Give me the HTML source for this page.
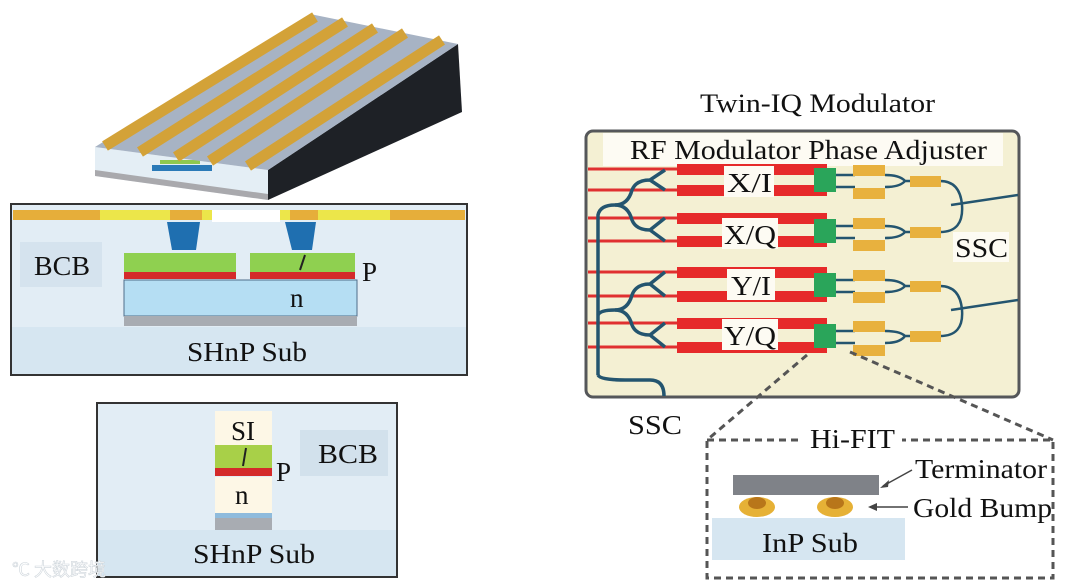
<!DOCTYPE html>
<html><head><meta charset="utf-8"><style>
html,body{margin:0;padding:0;background:#fff;}
svg{display:block;}
text{font-family:"Liberation Serif",serif;fill:#111;}
</style></head><body>
<svg width="1065" height="588" viewBox="0 0 1065 588" xmlns="http://www.w3.org/2000/svg">
<!-- 3D chip -->
<polygon points="268,170 458,44 462,112 268,200" fill="#1e2126"/>
<polygon points="95,147 268,170 268,200 95,176" fill="#e4eef5"/>
<polygon points="95,170 268,194 268,200 95,176" fill="#a9a9ad"/>
<rect x="152" y="165" width="60" height="6" fill="#2a7ab8"/>
<rect x="160" y="160" width="40" height="4" fill="#8fc850"/>
<polygon points="95,147 268,170 458,44 310,14" fill="#a7b3c4"/>
<g stroke="#d3a238" stroke-width="11">
<line x1="105" y1="146" x2="315" y2="17"/>
<line x1="140" y1="152" x2="345" y2="22"/>
<line x1="176" y1="157" x2="375" y2="28"/>
<line x1="210" y1="161" x2="405" y2="33"/>
<line x1="248" y1="166" x2="442" y2="40"/>
</g>
<!-- Cross-section 1 -->
<rect x="11" y="204" width="456" height="171" fill="#e2edf5" stroke="#333" stroke-width="2"/>
<rect x="13" y="210" width="87" height="10" fill="#e6ae3a"/>
<rect x="100" y="210" width="290" height="10" fill="#ece64a"/>
<rect x="390" y="210" width="75" height="10" fill="#e6ae3a"/>
<rect x="170" y="210" width="32" height="10" fill="#e6ae3a"/>
<rect x="290" y="210" width="28" height="10" fill="#e6ae3a"/>
<rect x="212" y="210" width="68" height="12" fill="#ffffff"/>
<polygon points="167,222 200,222 196,250 172,250" fill="#1f6fb0"/>
<polygon points="285,222 316,222 312,250 292,250" fill="#1f6fb0"/>
<rect x="20" y="242" width="82" height="45" fill="#d5e3ee"/>
<text x="34" y="275" font-size="27" textLength="56" lengthAdjust="spacingAndGlyphs">BCB</text>
<rect x="124" y="253" width="112" height="20" fill="#8fd050"/>
<rect x="250" y="253" width="105" height="20" fill="#8fd050"/>
<rect x="124" y="272" width="112" height="7" fill="#d42a2a"/>
<rect x="250" y="272" width="105" height="7" fill="#d42a2a"/>
<line x1="305" y1="255" x2="300" y2="270" stroke="#222" stroke-width="2"/>
<rect x="124" y="280" width="233" height="36" fill="#b5def3" stroke="#4e6d8a" stroke-width="1"/>
<rect x="124" y="316" width="233" height="10" fill="#a8acb2"/>
<text x="362" y="281" font-size="27">P</text>
<text x="290" y="307" font-size="27">n</text>
<rect x="12" y="327" width="454" height="47" fill="#d6e6f1"/>
<text x="187" y="361" font-size="27" textLength="120" lengthAdjust="spacingAndGlyphs">SHnP Sub</text>
<!-- Cross-section 2 -->
<rect x="97" y="403" width="300" height="174" fill="#e2edf5" stroke="#333" stroke-width="2"/>
<rect x="215" y="411" width="57" height="34" fill="#fdf7e6"/>
<text x="231" y="440" font-size="27">SI</text>
<rect x="215" y="445" width="57" height="26" fill="#a8d048"/>
<line x1="246" y1="448" x2="243" y2="466" stroke="#222" stroke-width="2"/>
<rect x="215" y="468" width="57" height="8" fill="#d42a2a"/>
<rect x="215" y="477" width="57" height="36" fill="#fdf7e6"/>
<text x="235" y="504" font-size="27">n</text>
<rect x="215" y="513" width="57" height="5" fill="#8fbbdc"/>
<rect x="215" y="518" width="57" height="13" fill="#a8acb2"/>
<text x="276" y="481" font-size="27">P</text>
<rect x="300" y="430" width="88" height="46" fill="#d2e1ec"/>
<text x="318" y="463" font-size="27" textLength="60" lengthAdjust="spacingAndGlyphs">BCB</text>
<rect x="98" y="530" width="298" height="46" fill="#d6e6f1"/>
<text x="193" y="563" font-size="27" textLength="122" lengthAdjust="spacingAndGlyphs">SHnP Sub</text>
<text x="12" y="576" font-size="18" style="font-family:'Noto Sans CJK SC',sans-serif;fill:#ffffff;stroke:#cfd6dc;stroke-width:0.6">℃ 大数跨境</text>
<!-- Twin-IQ -->
<text x="700" y="112" font-size="26" textLength="235" lengthAdjust="spacingAndGlyphs">Twin-IQ Modulator</text>
<rect x="586" y="131" width="433" height="266" rx="7" fill="#f4f0d3" stroke="#55575a" stroke-width="3"/>
<rect x="603" y="133" width="400" height="33" fill="#fdfbf3"/>
<text x="630" y="159" font-size="27" textLength="357" lengthAdjust="spacingAndGlyphs">RF Modulator Phase Adjuster</text>
<g fill="#e62a2a">
<rect x="677" y="164" width="150" height="11"/><rect x="677" y="185" width="150" height="11"/>
<rect x="677" y="213" width="150" height="11"/><rect x="677" y="236" width="150" height="11"/>
<rect x="677" y="267" width="150" height="11"/><rect x="677" y="291" width="150" height="11"/>
<rect x="677" y="318" width="150" height="11"/><rect x="677" y="342" width="150" height="11"/>
</g>
<g stroke="#e03030" stroke-width="3">
<line x1="588" y1="169" x2="677" y2="169"/><line x1="588" y1="190" x2="677" y2="190"/>
<line x1="588" y1="218" x2="677" y2="218"/><line x1="588" y1="241" x2="677" y2="241"/>
<line x1="588" y1="272" x2="677" y2="272"/><line x1="588" y1="296" x2="677" y2="296"/>
<line x1="588" y1="323" x2="677" y2="323"/><line x1="588" y1="347" x2="677" y2="347"/>
</g>
<g fill="none" stroke="#24556f" stroke-width="3.5">
<path d="M598,375 L598,215 Q600,205 615,205"/>
<path d="M615,205 Q628,205 632,190 Q636,180 650,180 L665,170 M650,180 L665,190"/>
<path d="M615,205 Q628,205 632,220 Q636,230 650,230 L665,218 M650,230 L665,241"/>
<path d="M598,315 Q600,310 615,310"/>
<path d="M615,310 Q628,310 632,295 Q636,284 650,284 L665,272 M650,284 L665,296"/>
<path d="M615,310 Q628,310 632,325 Q636,335 650,335 L665,323 M650,335 L665,347"/>
<path d="M598,375 Q600,380 625,380 L650,380 Q664,380 664,396"/>
</g>
<g fill="#2aa55a">
<rect x="814" y="168" width="22" height="24"/><rect x="814" y="219" width="22" height="24"/>
<rect x="814" y="273" width="22" height="24"/><rect x="814" y="324" width="22" height="24"/>
</g>
<g fill="none" stroke="#24556f" stroke-width="2.5">
<path d="M836,175 L855,175 M836,187 L855,187 M885,175 Q900,175 905,181 Q900,187 885,187 M905,181 L910,181 M940,181 Q960,181 962,205 Q964,232 940,232 M951,205 L1018,195"/>
<path d="M836,226 L855,226 M836,238 L855,238 M885,226 Q900,226 905,232 Q900,238 885,238 M905,232 L910,232"/>
<path d="M836,280 L855,280 M836,292 L855,292 M885,280 Q900,280 905,286 Q900,292 885,292 M905,286 L910,286 M940,286 Q960,286 962,310 Q964,336 940,336 M951,310 L1018,300"/>
<path d="M836,331 L855,331 M836,343 L855,343 M885,331 Q900,331 905,336 Q900,343 885,343 M905,336 L910,336"/>
</g>
<g fill="#e8b13e">
<rect x="853" y="165" width="32" height="11"/><rect x="853" y="188" width="32" height="11"/>
<rect x="853" y="218" width="32" height="11"/><rect x="853" y="240" width="32" height="11"/>
<rect x="853" y="270" width="32" height="11"/><rect x="853" y="292" width="32" height="11"/>
<rect x="853" y="321" width="32" height="11"/><rect x="853" y="345" width="32" height="11"/>
<rect x="910" y="176" width="31" height="11"/><rect x="910" y="227" width="31" height="11"/>
<rect x="910" y="281" width="31" height="11"/><rect x="910" y="331" width="31" height="11"/>
</g>
<g fill="#fdfbf3">
<rect x="724" y="166" width="50" height="31"/><rect x="722" y="218" width="56" height="31"/>
<rect x="727" y="269" width="48" height="31"/><rect x="722" y="319" width="56" height="31"/>
<rect x="953" y="232" width="56" height="30"/>
</g>
<text x="727" y="192" font-size="27" textLength="45" lengthAdjust="spacingAndGlyphs">X/I</text>
<text x="724" y="244" font-size="27" textLength="52" lengthAdjust="spacingAndGlyphs">X/Q</text>
<text x="731" y="295" font-size="27" textLength="40" lengthAdjust="spacingAndGlyphs">Y/I</text>
<text x="724" y="345" font-size="27" textLength="52" lengthAdjust="spacingAndGlyphs">Y/Q</text>
<text x="955" y="257" font-size="27" textLength="53" lengthAdjust="spacingAndGlyphs">SSC</text>
<text x="628" y="434" font-size="27" textLength="54" lengthAdjust="spacingAndGlyphs">SSC</text>
<!-- Hi-FIT -->
<g stroke="#555" stroke-width="3" stroke-dasharray="7,5" fill="none">
<line x1="807" y1="355" x2="707" y2="440"/>
<line x1="850" y1="352" x2="1053" y2="440"/>
<rect x="707" y="440" width="346" height="138"/>
</g>
<rect x="800" y="426" width="102" height="28" fill="#fff"/>
<text x="810" y="448" font-size="27" textLength="85" lengthAdjust="spacingAndGlyphs">Hi-FIT</text>
<rect x="733" y="475" width="146" height="20" fill="#7f8288"/>
<ellipse cx="757" cy="507" rx="18" ry="10" fill="#e6b136"/>
<ellipse cx="835" cy="507" rx="18" ry="10" fill="#e6b136"/>
<ellipse cx="757" cy="503" rx="9" ry="6" fill="#b8761a"/>
<ellipse cx="835" cy="503" rx="9" ry="6" fill="#b8761a"/>
<rect x="712" y="518" width="193" height="42" fill="#d6e6f1"/>
<text x="762" y="552" font-size="27" textLength="96" lengthAdjust="spacingAndGlyphs">InP Sub</text>
<text x="915" y="478" font-size="27" textLength="132" lengthAdjust="spacingAndGlyphs">Terminator</text>
<text x="913" y="517" font-size="27" textLength="139" lengthAdjust="spacingAndGlyphs">Gold Bump</text>
<line x1="912" y1="470" x2="883" y2="486" stroke="#444" stroke-width="1.5"/>
<polygon points="880,488 889,480 888,487" fill="#444"/>
<line x1="908" y1="507" x2="872" y2="507" stroke="#444" stroke-width="1.5"/>
<polygon points="868,507 877,503 877,511" fill="#444"/>
</svg>
</body></html>
